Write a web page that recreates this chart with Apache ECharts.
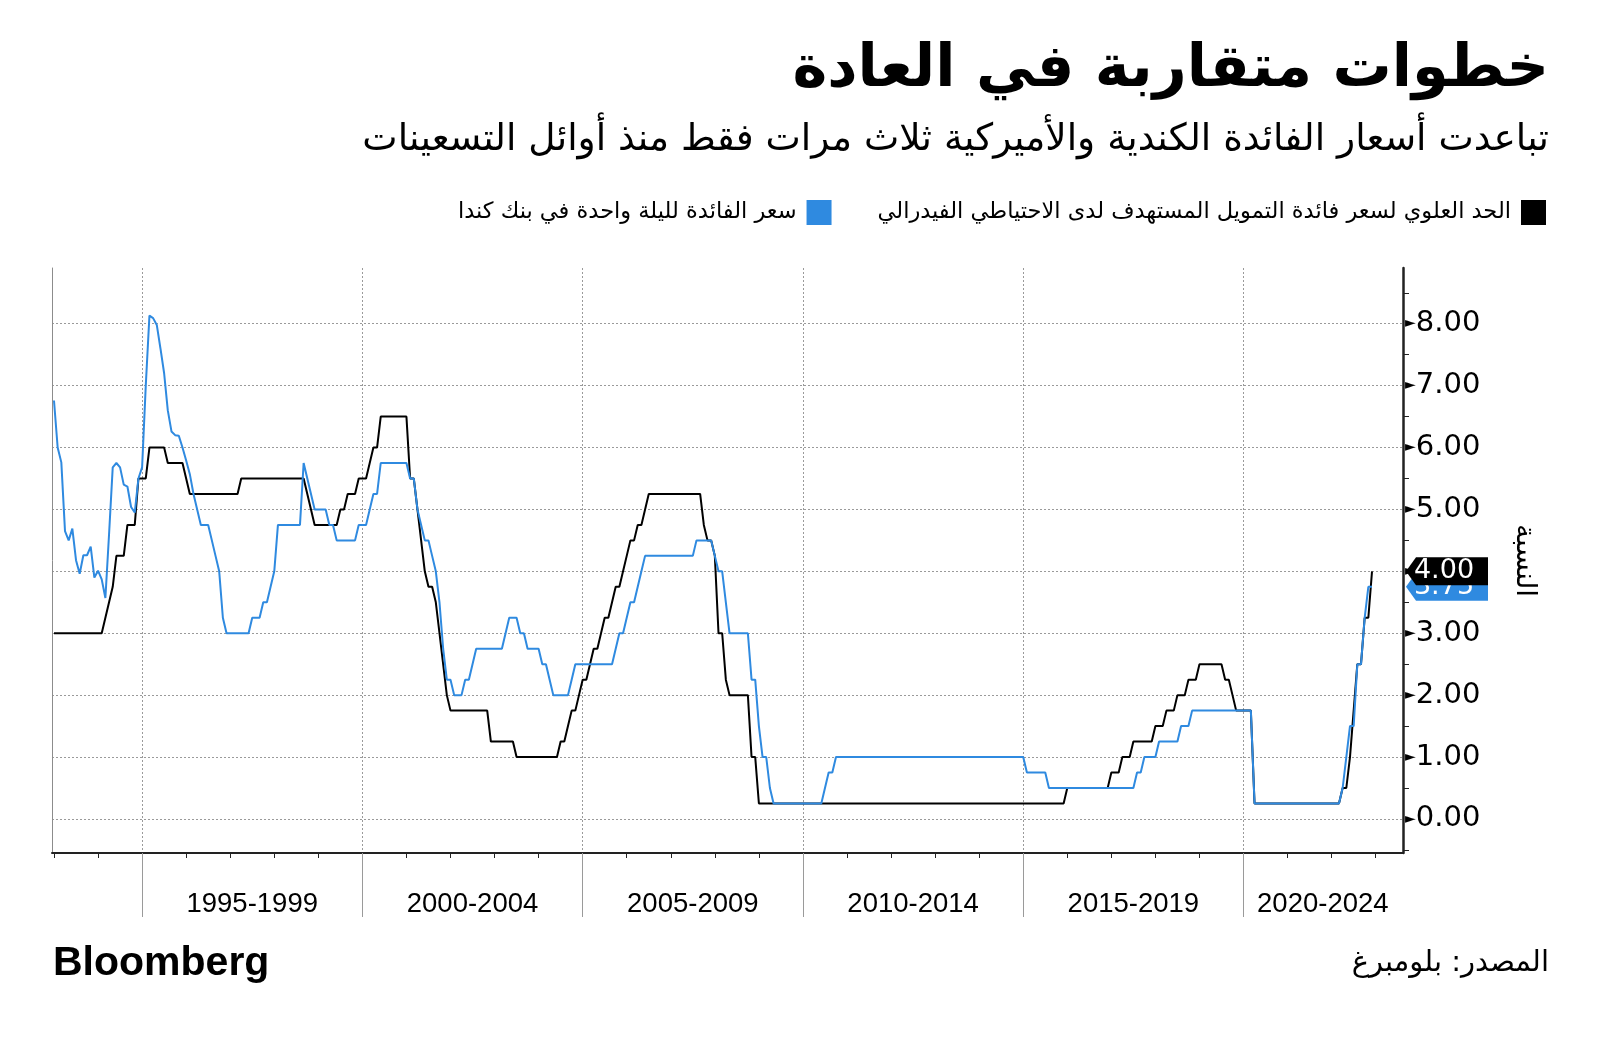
<!DOCTYPE html>
<html>
<head>
<meta charset="utf-8">
<script src="https://cdn.jsdelivr.net/npm/echarts/dist/echarts.min.js"></script>
<style>
  html, body { margin: 0; padding: 0; background: #fff; }
  #chart { width: 1600px; height: 1042px; }
</style>
</head>
<body>
<div id="chart"></div>
<script>
// ---------------- DATA ----------------
const titleText = 'خطوات متقاربة في العادة';
const subtitleText = 'تباعدت أسعار الفائدة الكندية والأميركية ثلاث مرات فقط منذ أوائل التسعينات';
const fedName = 'الحد العلوي لسعر فائدة التمويل المستهدف لدى الاحتياطي الفيدرالي';
const bocName = 'سعر الفائدة لليلة واحدة في بنك كندا';
const yAxisName = 'النسبة';
const sourceText = 'المصدر: بلومبرغ';
const brandText = 'Bloomberg';

// monthly values, first value = January 1993
const firstYear = 1993;

// US Federal Reserve target rate, upper bound (%)
const fedUpper = [
  3.00,3.00,3.00,3.00,3.00,3.00,3.00,3.00,3.00,3.00,3.00,3.00, // 1993
  3.00,3.00,3.25,3.50,3.75,4.25,4.25,4.25,4.75,4.75,4.75,5.50, // 1994
  5.50,5.50,6.00,6.00,6.00,6.00,6.00,5.75,5.75,5.75,5.75,5.75, // 1995
  5.50,5.25,5.25,5.25,5.25,5.25,5.25,5.25,5.25,5.25,5.25,5.25, // 1996
  5.25,5.25,5.25,5.50,5.50,5.50,5.50,5.50,5.50,5.50,5.50,5.50, // 1997
  5.50,5.50,5.50,5.50,5.50,5.50,5.50,5.50,5.50,5.25,5.00,4.75, // 1998
  4.75,4.75,4.75,4.75,4.75,4.75,5.00,5.00,5.25,5.25,5.25,5.50, // 1999
  5.50,5.50,5.75,6.00,6.00,6.50,6.50,6.50,6.50,6.50,6.50,6.50, // 2000
  6.50,5.50,5.50,5.00,4.50,4.00,3.75,3.75,3.50,3.00,2.50,2.00, // 2001
  1.75,1.75,1.75,1.75,1.75,1.75,1.75,1.75,1.75,1.75,1.75,1.25, // 2002
  1.25,1.25,1.25,1.25,1.25,1.25,1.00,1.00,1.00,1.00,1.00,1.00, // 2003
  1.00,1.00,1.00,1.00,1.00,1.00,1.25,1.25,1.50,1.75,1.75,2.00, // 2004
  2.25,2.25,2.50,2.75,2.75,3.00,3.25,3.25,3.50,3.75,3.75,4.00, // 2005
  4.25,4.50,4.50,4.75,4.75,5.00,5.25,5.25,5.25,5.25,5.25,5.25, // 2006
  5.25,5.25,5.25,5.25,5.25,5.25,5.25,5.25,5.25,4.75,4.50,4.50, // 2007
  4.25,3.00,3.00,2.25,2.00,2.00,2.00,2.00,2.00,2.00,1.00,1.00, // 2008
  0.25,0.25,0.25,0.25,0.25,0.25,0.25,0.25,0.25,0.25,0.25,0.25, // 2009
  0.25,0.25,0.25,0.25,0.25,0.25,0.25,0.25,0.25,0.25,0.25,0.25, // 2010
  0.25,0.25,0.25,0.25,0.25,0.25,0.25,0.25,0.25,0.25,0.25,0.25, // 2011
  0.25,0.25,0.25,0.25,0.25,0.25,0.25,0.25,0.25,0.25,0.25,0.25, // 2012
  0.25,0.25,0.25,0.25,0.25,0.25,0.25,0.25,0.25,0.25,0.25,0.25, // 2013
  0.25,0.25,0.25,0.25,0.25,0.25,0.25,0.25,0.25,0.25,0.25,0.25, // 2014
  0.25,0.25,0.25,0.25,0.25,0.25,0.25,0.25,0.25,0.25,0.25,0.25, // 2015
  0.50,0.50,0.50,0.50,0.50,0.50,0.50,0.50,0.50,0.50,0.50,0.50, // 2016
  0.75,0.75,0.75,1.00,1.00,1.00,1.25,1.25,1.25,1.25,1.25,1.25, // 2017
  1.50,1.50,1.50,1.75,1.75,1.75,2.00,2.00,2.00,2.25,2.25,2.25, // 2018
  2.50,2.50,2.50,2.50,2.50,2.50,2.50,2.25,2.25,2.00,1.75,1.75, // 2019
  1.75,1.75,1.75,0.25,0.25,0.25,0.25,0.25,0.25,0.25,0.25,0.25, // 2020
  0.25,0.25,0.25,0.25,0.25,0.25,0.25,0.25,0.25,0.25,0.25,0.25, // 2021
  0.25,0.25,0.25,0.50,0.50,1.00,1.75,2.50,2.50,3.25,3.25,4.00  // 2022
];

// Bank of Canada overnight rate (%)
const bocOvernight = [
  6.76,6.00,5.76,4.65,4.50,4.69,4.18,3.96,4.26,4.26,4.40,3.90, // 1993
  4.01,3.87,3.57,4.60,5.68,5.75,5.68,5.40,5.37,5.04,4.95,5.50, // 1994
  5.68,7.00,8.13,8.09,7.98,7.60,7.20,6.60,6.26,6.20,6.19,6.00, // 1995
  5.79,5.57,5.25,5.00,4.75,4.75,4.75,4.50,4.25,4.00,3.25,3.00, // 1996
  3.00,3.00,3.00,3.00,3.00,3.00,3.25,3.25,3.25,3.50,3.50,3.75, // 1997
  4.00,4.75,4.75,4.75,4.75,4.75,4.75,4.75,5.75,5.50,5.25,5.00, // 1998
  5.00,5.00,5.00,4.75,4.75,4.50,4.50,4.50,4.50,4.50,4.50,4.75, // 1999
  4.75,4.75,5.00,5.25,5.25,5.75,5.75,5.75,5.75,5.75,5.75,5.75, // 2000
  5.75,5.50,5.50,5.00,4.75,4.50,4.50,4.25,4.00,3.50,2.75,2.25, // 2001
  2.25,2.00,2.00,2.00,2.25,2.25,2.50,2.75,2.75,2.75,2.75,2.75, // 2002
  2.75,2.75,2.75,3.00,3.25,3.25,3.25,3.00,3.00,2.75,2.75,2.75, // 2003
  2.75,2.50,2.50,2.25,2.00,2.00,2.00,2.00,2.00,2.25,2.50,2.50, // 2004
  2.50,2.50,2.50,2.50,2.50,2.50,2.50,2.50,2.50,2.75,3.00,3.00, // 2005
  3.25,3.50,3.50,3.75,4.00,4.25,4.25,4.25,4.25,4.25,4.25,4.25, // 2006
  4.25,4.25,4.25,4.25,4.25,4.25,4.25,4.50,4.50,4.50,4.50,4.50, // 2007
  4.25,4.00,4.00,3.50,3.00,3.00,3.00,3.00,3.00,3.00,2.25,2.25, // 2008
  1.50,1.00,1.00,0.50,0.25,0.25,0.25,0.25,0.25,0.25,0.25,0.25, // 2009
  0.25,0.25,0.25,0.25,0.25,0.25,0.50,0.75,0.75,1.00,1.00,1.00, // 2010
  1.00,1.00,1.00,1.00,1.00,1.00,1.00,1.00,1.00,1.00,1.00,1.00, // 2011
  1.00,1.00,1.00,1.00,1.00,1.00,1.00,1.00,1.00,1.00,1.00,1.00, // 2012
  1.00,1.00,1.00,1.00,1.00,1.00,1.00,1.00,1.00,1.00,1.00,1.00, // 2013
  1.00,1.00,1.00,1.00,1.00,1.00,1.00,1.00,1.00,1.00,1.00,1.00, // 2014
  1.00,0.75,0.75,0.75,0.75,0.75,0.75,0.50,0.50,0.50,0.50,0.50, // 2015
  0.50,0.50,0.50,0.50,0.50,0.50,0.50,0.50,0.50,0.50,0.50,0.50, // 2016
  0.50,0.50,0.50,0.50,0.50,0.50,0.50,0.75,0.75,1.00,1.00,1.00, // 2017
  1.00,1.25,1.25,1.25,1.25,1.25,1.25,1.50,1.50,1.50,1.75,1.75, // 2018
  1.75,1.75,1.75,1.75,1.75,1.75,1.75,1.75,1.75,1.75,1.75,1.75, // 2019
  1.75,1.75,1.75,0.25,0.25,0.25,0.25,0.25,0.25,0.25,0.25,0.25, // 2020
  0.25,0.25,0.25,0.25,0.25,0.25,0.25,0.25,0.25,0.25,0.25,0.25, // 2021
  0.25,0.25,0.25,0.50,1.00,1.50,1.50,2.50,2.50,3.25,3.75,3.75  // 2022
];

// axis ticks and labels
const yTickValues = [0, 1, 2, 3, 4, 5, 6, 7, 8];
const yMinorValues = [-0.5, 0.5, 1.5, 2.5, 3.5, 4.5, 5.5, 6.5, 7.5, 8.5];
const yearTicks = [1993,1994,1995,1996,1997,1998,1999,2000,2001,2002,2003,2004,2005,2006,2007,2008,2009,2010,2011,2012,2013,2014,2015,2016,2017,2018,2019,2020,2021,2022,2023];
const periodStarts = [1995, 2000, 2005, 2010, 2015, 2020];
const periodLabels = ['1995-1999', '2000-2004', '2005-2009', '2010-2014', '2015-2019', '2020-2024'];
const periodLabelPos = [1997.5, 2002.5, 2007.5, 2012.5, 2017.5, 2021.8];

// ---------------- LAYOUT / STYLE ----------------
const xMin = 1992.955, xMax = 2023.62;
const yMin = -0.55, yMax = 8.9;
const BLACK = '#000000';
const BLUE = '#2f8ae0';
const GRID_GRAY = '#9a9a9a';
const AR_FONT = "'DejaVu Sans', 'Noto Sans', sans-serif";
const NUM_FONT = "'DejaVu Sans', sans-serif";
const LAT_FONT = "'Liberation Sans', Arial, sans-serif";

const toPoints = arr => arr.map((v, i) => [firstYear + i / 12, v]);
const fedLast = fedUpper[fedUpper.length - 1];
const bocLast = bocOvernight[bocOvernight.length - 1];

const endLabel = (value, color, z) => ({
  symbol: 'path://M0,15 L11,0 L90,0 L90,30 L11,30 Z',
  symbolSize: [82, 28],
  symbolOffset: [44, 0],
  z: z,
  itemStyle: { color: color },
  label: {
    show: true, position: 'inside', offset: [-3, 0],
    color: '#fff', fontSize: 27, fontFamily: NUM_FONT,
    formatter: p => Number(p.value).toFixed(2)
  },
  data: [{ coord: [xMax, value], value: value }]
});

const chart = echarts.init(document.getElementById('chart'), null, { renderer: 'canvas' });

const option = {
  animation: false,
  backgroundColor: '#ffffff',
  title: [
    { text: titleText, right: 46, top: 36,
      textStyle: { fontFamily: AR_FONT, fontWeight: 'bold', fontSize: 59, color: '#000' } },
    { text: subtitleText, right: 46, top: 116,
      textStyle: { fontFamily: AR_FONT, fontWeight: 'normal', fontSize: 37.5, color: '#000' } },
    { text: brandText, left: 48, top: 938,
      textStyle: { fontFamily: LAT_FONT, fontWeight: 'bold', fontSize: 41, color: '#000' } },
    { text: sourceText, right: 46, top: 944,
      textStyle: { fontFamily: AR_FONT, fontWeight: 'normal', fontSize: 29, color: '#000' } }
  ],
  legend: {
    data: [bocName, fedName],
    right: 49, top: 195,
    align: 'right',
    icon: 'rect',
    itemWidth: 25, itemHeight: 25, itemGap: 46,
    textStyle: { fontFamily: AR_FONT, fontSize: 22.5, color: '#000', padding: [0, 5, 0, 0] }
  },
  grid: { left: 52, right: 197, top: 268, bottom: 189 },
  xAxis: [
    { type: 'value', position: 'bottom', min: xMin, max: xMax,
      axisLine: { show: true, onZero: false, lineStyle: { color: '#222', width: 2 } },
      axisTick: { show: true, customValues: yearTicks, length: 5, lineStyle: { color: '#222', width: 1 } },
      axisLabel: { show: false }, splitLine: { show: false } },
    { type: 'value', position: 'bottom', min: xMin, max: xMax,
      axisLine: { show: false, onZero: false },
      axisTick: { show: true, customValues: periodStarts, length: 64, lineStyle: { color: GRID_GRAY, width: 1 } },
      axisLabel: { show: false },
      splitLine: { show: true, lineStyle: { type: [2, 2], color: GRID_GRAY, width: 1 } } },
    { type: 'value', position: 'bottom', min: xMin, max: xMax,
      axisLine: { show: false, onZero: false }, axisTick: { show: false },
      axisLabel: { show: true, customValues: periodLabelPos, margin: 37,
        formatter: v => periodLabels[periodLabelPos.indexOf(v)],
        fontFamily: LAT_FONT, fontSize: 27.5, color: '#000' },
      splitLine: { show: false } }
  ],
  yAxis: [
    { type: 'value', position: 'right', min: yMin, max: yMax,
      axisLine: { show: true, onZero: false, lineStyle: { color: '#222', width: 2.5 } },
      axisTick: { show: false, customValues: yTickValues },
      axisLabel: { show: true, customValues: yTickValues, margin: 2,
        formatter: v => '{t|►}{v|' + v.toFixed(2) + '}',
        rich: {
          t: { fontSize: 14, color: '#000', fontFamily: NUM_FONT },
          v: { fontSize: 29, color: '#000', fontFamily: NUM_FONT }
        } },
      splitLine: { show: true, lineStyle: { type: [2, 2], color: GRID_GRAY, width: 1 } },
      name: yAxisName, nameLocation: 'middle', nameRotate: -90, nameGap: 107,
      nameTextStyle: { fontFamily: AR_FONT, fontSize: 28, color: '#000' } },
    { type: 'value', position: 'right', min: yMin, max: yMax,
      axisLine: { show: false, onZero: false },
      axisTick: { show: true, customValues: yMinorValues, length: 6, lineStyle: { color: '#222', width: 1 } },
      axisLabel: { show: false }, splitLine: { show: false } },
    { type: 'value', position: 'left', min: yMin, max: yMax,
      axisLine: { show: true, onZero: false, lineStyle: { color: '#8c8c8c', width: 1 } },
      axisTick: { show: false }, axisLabel: { show: false }, splitLine: { show: false } }
  ],
  series: [
    { name: fedName, type: 'line', xAxisIndex: 0, yAxisIndex: 0,
      data: toPoints(fedUpper), showSymbol: false, symbol: 'none', z: 3,
      color: BLACK, lineStyle: { color: BLACK, width: 2 },
      markPoint: endLabel(fedLast, BLACK, 12) },
    { name: bocName, type: 'line', xAxisIndex: 0, yAxisIndex: 0,
      data: toPoints(bocOvernight), showSymbol: false, symbol: 'none', z: 4,
      color: BLUE, lineStyle: { color: BLUE, width: 2 },
      markPoint: endLabel(bocLast, BLUE, 10) }
  ]
};
chart.setOption(option);
</script>
</body>
</html>
